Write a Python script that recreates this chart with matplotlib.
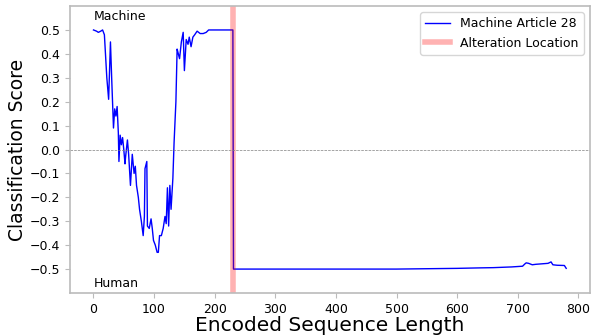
import matplotlib
matplotlib.use('Agg')
import matplotlib.pyplot as plt

# score trace (encoded length, classification score)
seqLen = [0, 5, 8, 12, 15, 18, 22, 25, 28, 30, 33, 35, 37, 39, 41, 42, 44, 46, 48,
          50, 52, 53, 56, 58, 61, 64, 67, 69, 71, 74, 76, 79, 82, 84, 85, 88, 89,
          92, 95, 97, 99, 102, 105, 107, 109, 112, 115, 118, 120, 122, 124, 126,
          128, 131, 133, 136, 138, 140, 142, 145, 148, 150, 153, 156, 158, 161,
          164, 167, 171, 176, 181, 186, 190, 200, 210, 220, 230, 231,
          300, 500, 600, 637, 660, 690, 708, 712, 714, 718, 724, 730, 740, 750,
          755, 758, 765, 777, 780]
score = [0.50, 0.495, 0.49, 0.495, 0.50, 0.48, 0.30, 0.21, 0.45, 0.30, 0.09, 0.17,
         0.14, 0.18, 0.07, -0.05, 0.06, 0.02, 0.05, 0.00, -0.06, -0.03, 0.04,
         -0.02, -0.15, -0.02, -0.10, -0.07, -0.15, -0.20, -0.25, -0.30, -0.36,
         -0.28, -0.08, -0.05, -0.32, -0.33, -0.29, -0.33, -0.38, -0.40, -0.43,
         -0.43, -0.36, -0.36, -0.33, -0.28, -0.31, -0.16, -0.32, -0.15, -0.25,
         -0.12, 0.03, 0.20, 0.42, 0.40, 0.38, 0.45, 0.49, 0.33, 0.46, 0.44, 0.47,
         0.43, 0.47, 0.48, 0.495, 0.485, 0.485, 0.49, 0.50, 0.50, 0.50, 0.50,
         0.50, -0.50,
         -0.50, -0.50, -0.497, -0.495, -0.494, -0.491, -0.488, -0.478, -0.474,
         -0.476, -0.482, -0.480, -0.478, -0.476, -0.470, -0.482, -0.484, -0.485,
         -0.497]
alterAt = 231
seriesName = 'Machine Article 28'
alterName = 'Alteration Location'
yTicks = [-0.5, -0.4, -0.3, -0.2, -0.1, 0.0, 0.1, 0.2, 0.3, 0.4, 0.5]
xTicks = [0, 100, 200, 300, 400, 500, 600, 700, 800]

fig = plt.figure(figsize=(5.97, 3.36), dpi=100)
ax = fig.add_axes([0.117, 0.128, 0.871, 0.854])

ax.plot(seqLen, score, color='blue', linewidth=1, label=seriesName)
ax.axvline(alterAt, color='red', alpha=0.3, linewidth=4, label=alterName)
ax.axhline(0, color='gray', linestyle='--', linewidth=0.5)

ax.text(0, 0.54, 'Machine', fontsize=9)
ax.text(0, -0.575, 'Human', fontsize=9)

ax.set_xlim(-39, 819)
ax.set_ylim(-0.6, 0.6)
ax.set_xticks(xTicks)
ax.set_yticks(yTicks)
ax.tick_params(labelsize=9, color='#bbbbbb')
for s in ax.spines.values():
    s.set_color('#bbbbbb')
    s.set_linewidth(1.2)

ax.set_xlabel('Encoded Sequence Length', fontsize=14.5, labelpad=0)
ax.set_ylabel('Classification Score', fontsize=13.5, labelpad=2)
ax.legend(loc='upper right', fontsize=9)

plt.savefig('out.png')
